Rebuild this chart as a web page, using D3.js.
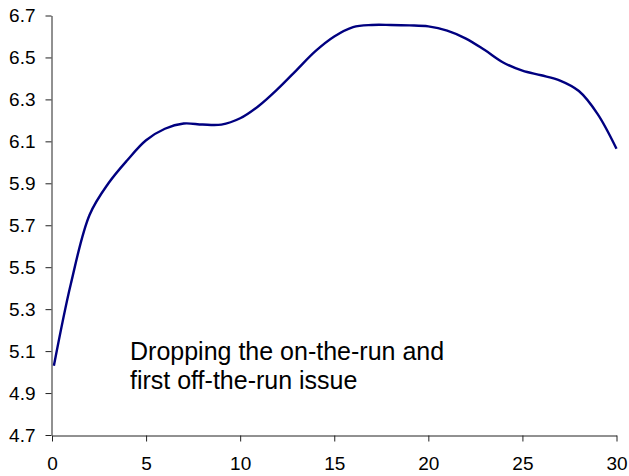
<!DOCTYPE html>
<html>
<head>
<meta charset="utf-8">
<script src="https://cdn.jsdelivr.net/npm/d3@7"></script>
<style>
  html, body { margin: 0; padding: 0; background: #fff; }
  svg { display: block; font-family: "Liberation Sans", Arial, sans-serif; }
</style>
</head>
<body>
<svg id="chart" width="629" height="476"></svg>
<script>
// Maturity in years and the fitted yield (%) at each maturity
const maturities = [0.1, 1, 2, 3, 4, 5, 6, 7, 8, 9, 10, 11, 12, 13, 14, 15,
                    16, 17, 18, 19, 20, 21, 22, 23, 24, 25, 26, 27, 28, 29, 30];
const yields = [5.03, 5.42, 5.75, 5.90, 6.01, 6.105, 6.16, 6.185, 6.18, 6.18, 6.21,
                6.27, 6.35, 6.44, 6.53, 6.60, 6.645, 6.655, 6.655, 6.653, 6.648,
                6.628, 6.59, 6.535, 6.475, 6.437, 6.415, 6.39, 6.34, 6.23, 6.065];
const xTicks = [0, 5, 10, 15, 20, 25, 30];
const yTicks = [4.7, 4.9, 5.1, 5.3, 5.5, 5.7, 5.9, 6.1, 6.3, 6.5, 6.7];
const noteLines = ["Dropping the on-the-run and", "first off-the-run issue"];

const svg = d3.select("#chart");
const margin = { top: 15.5, right: 12.5, bottom: 41, left: 52 };
const W = 629, H = 476;

const x = d3.scaleLinear().domain([0, 30]).range([margin.left, W - margin.right]);
const y = d3.scaleLinear().domain([4.7, 6.7]).range([H - margin.bottom, margin.top]);

const axisColor = "#222";

// y axis
const gy = svg.append("g")
  .attr("transform", `translate(${margin.left - 0.5},0)`)
  .call(d3.axisLeft(y).tickValues(yTicks).tickFormat(d3.format(".1f"))
    .tickSize(6).tickSizeOuter(0).tickPadding(10));

// x axis
const gx = svg.append("g")
  .attr("transform", `translate(0,${H - margin.bottom + 0.5})`)
  .call(d3.axisBottom(x).tickValues(xTicks).tickFormat(d3.format("d"))
    .tickSize(6).tickSizeOuter(0).tickPadding(15));

[gx, gy].forEach(g => {
  g.select(".domain").attr("stroke", axisColor);
  g.selectAll(".tick line").attr("stroke", axisColor);
  g.selectAll(".tick text").attr("fill", "#000").style("font-size", "19px")
    .style("font-family", "'Liberation Sans', Arial, sans-serif");
});

// yield curve
const pts = maturities.map((m, i) => [m, yields[i]]);
svg.append("path")
  .datum(pts)
  .attr("fill", "none")
  .attr("stroke", "#000080")
  .attr("stroke-width", 2.4)
  .attr("stroke-linejoin", "round")
  .attr("d", d3.line().x(d => x(d[0])).y(d => y(d[1])).curve(d3.curveCatmullRom.alpha(0.5)));

// annotation
const note = svg.append("text")
  .attr("x", 130)
  .attr("y", 360)
  .attr("fill", "#000")
  .style("font-size", "25px");
noteLines.forEach((t, i) => {
  note.append("tspan").attr("x", 130).attr("dy", i === 0 ? 0 : 29).text(t);
});
</script>
</body>
</html>
